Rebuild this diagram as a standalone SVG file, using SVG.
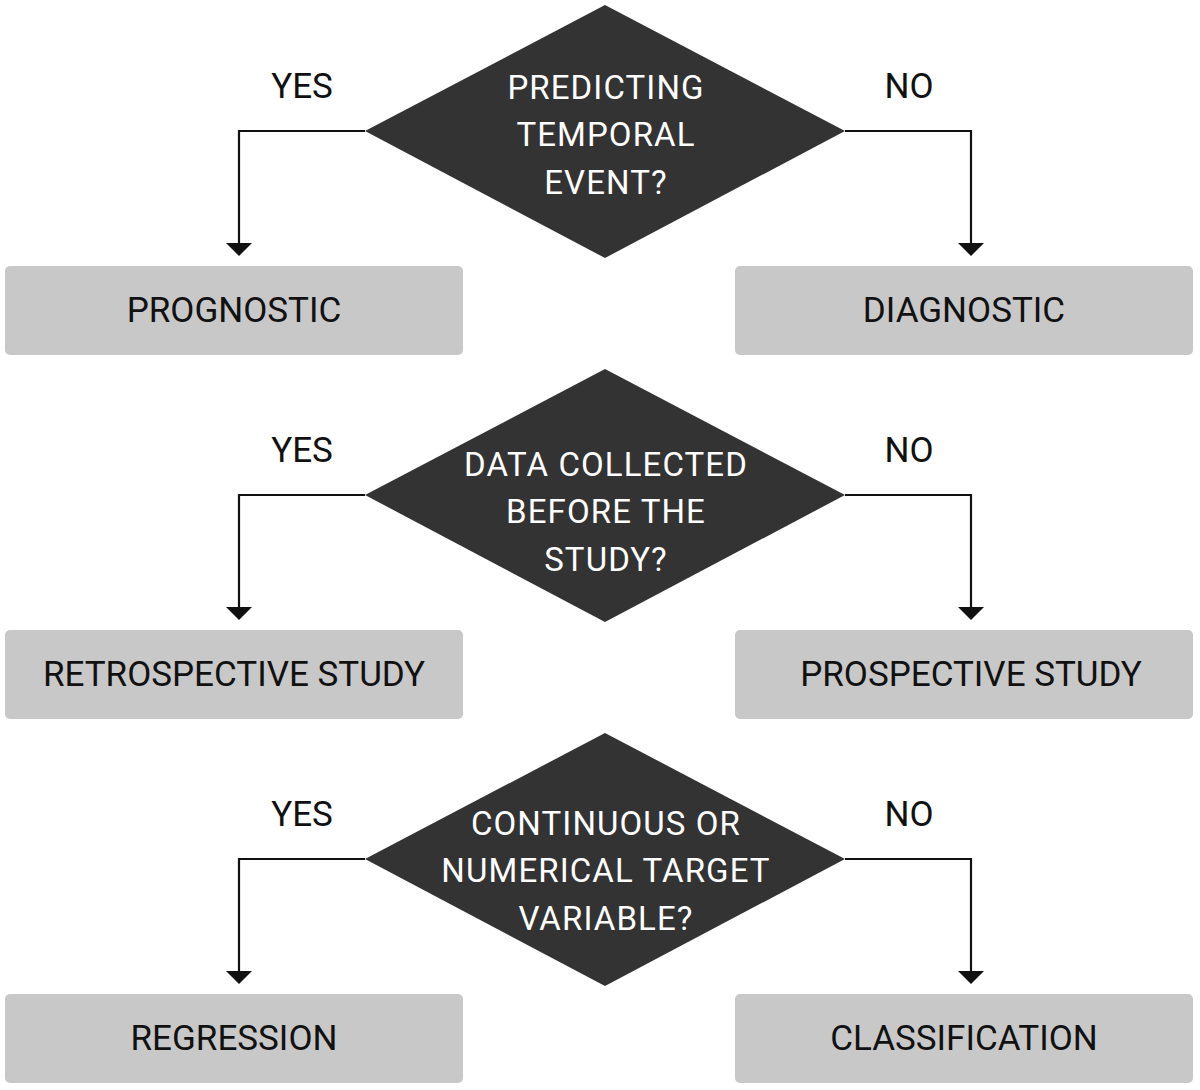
<svg xmlns="http://www.w3.org/2000/svg" width="1200" height="1090" viewBox="0 0 1200 1090">
<defs>
<style>
.box{fill:#c8c8c8;}
.dia{fill:#333333;}
.bt{font-family:Roboto,"Liberation Sans",sans-serif;font-size:35px;fill:#111;text-anchor:middle;}
.dt{font-family:Roboto,"Liberation Sans",sans-serif;font-size:33px;letter-spacing:1.1px;fill:#ffffff;text-anchor:middle;}
.lbl{font-family:Roboto,"Liberation Sans",sans-serif;font-size:35px;fill:#111;text-anchor:middle;}
.con{fill:none;stroke:#111;stroke-width:2.2;}
</style>
</defs>
<rect width="1200" height="1090" fill="#ffffff"/>
<g id="connectors">
<path class="con" d="M365,131 H239 V243"/>
<path class="con" d="M845,131 H971 V243"/>
<path class="con" d="M365,495 H239 V607"/>
<path class="con" d="M845,495 H971 V607"/>
<path class="con" d="M365,859 H239 V971"/>
<path class="con" d="M845,859 H971 V971"/>
<g fill="#111">
<polygon points="226,243 252,243 239,256"/>
<polygon points="958,243 984,243 971,256"/>
<polygon points="226,607 252,607 239,620"/>
<polygon points="958,607 984,607 971,620"/>
<polygon points="226,971 252,971 239,984"/>
<polygon points="958,971 984,971 971,984"/>
</g>
<text class="lbl" x="302" y="98">YES</text>
<text class="lbl" x="909" y="98">NO</text>
<text class="lbl" x="302" y="462">YES</text>
<text class="lbl" x="909" y="462">NO</text>
<text class="lbl" x="302" y="826">YES</text>
<text class="lbl" x="909" y="826">NO</text>
</g>
<g id="d1">
<polygon class="dia" points="605,5 845,131 605,258 365,131"/>
<text class="dt" x="606" y="99">PREDICTING</text>
<text class="dt" x="606" y="146">TEMPORAL</text>
<text class="dt" x="606" y="194">EVENT?</text>
</g>
<g id="prognostic">
<rect class="box" x="5" y="266" width="458" height="89" rx="5"/>
<text class="bt" x="234" y="322">PROGNOSTIC</text>
</g>
<g id="diagnostic">
<rect class="box" x="735" y="266" width="458" height="89" rx="5"/>
<text class="bt" x="964" y="322">DIAGNOSTIC</text>
</g>
<g id="d2">
<polygon class="dia" points="605,369 845,495 605,622 365,495"/>
<text class="dt" x="606" y="476">DATA COLLECTED</text>
<text class="dt" x="606" y="523">BEFORE THE</text>
<text class="dt" x="606" y="571">STUDY?</text>
</g>
<g id="retro">
<rect class="box" x="5" y="630" width="458" height="89" rx="5"/>
<text class="bt" x="234" y="686">RETROSPECTIVE STUDY</text>
</g>
<g id="prosp">
<rect class="box" x="735" y="630" width="458" height="89" rx="5"/>
<text class="bt" x="971" y="686">PROSPECTIVE STUDY</text>
</g>
<g id="d3">
<polygon class="dia" points="605,733 845,859 605,986 365,859"/>
<text class="dt" x="606" y="835">CONTINUOUS OR</text>
<text class="dt" x="606" y="882">NUMERICAL TARGET</text>
<text class="dt" x="606" y="930">VARIABLE?</text>
</g>
<g id="regression">
<rect class="box" x="5" y="994" width="458" height="89" rx="5"/>
<text class="bt" x="234" y="1050">REGRESSION</text>
</g>
<g id="classification">
<rect class="box" x="735" y="994" width="458" height="89" rx="5"/>
<text class="bt" x="964" y="1050">CLASSIFICATION</text>
</g>
</svg>
